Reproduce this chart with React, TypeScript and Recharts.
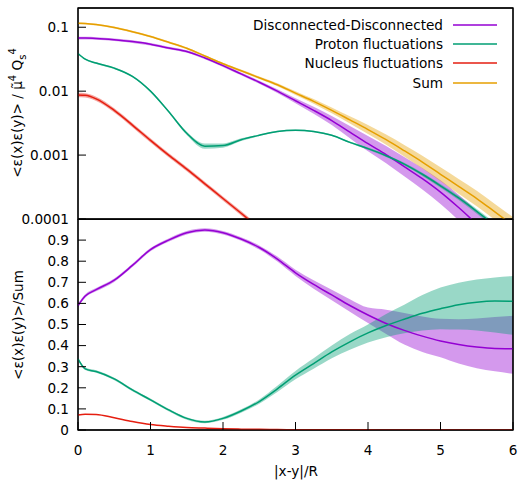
import React from 'react';
import { ComposedChart, Line, Area, XAxis, YAxis, ReferenceArea } from 'recharts';

// |x-y|/R sample points
const xs = [0, 0.1, 0.25, 0.5, 0.75, 1, 1.25, 1.5, 1.75, 2, 2.25, 2.5, 2.75, 3, 3.25, 3.5, 3.75, 4, 4.25, 4.5, 4.75, 5, 5.25, 5.5, 5.75, 6];

// top panel: <e(x)e(y)> / mu^4 Qs^4 (log scale), band = multiplicative spread
const ddVals = [0.0676, 0.0676, 0.0668, 0.0638, 0.0596, 0.0543, 0.0473, 0.0417, 0.0331, 0.0251, 0.0186, 0.0138, 0.01, 0.00708, 0.00501, 0.00347, 0.00229, 0.00151, 0.00102, 0.000661, 0.000427, 0.000263, 0.000151, 0.0000832, 0.0000447, 0.000024];
const ddErr = [1.047, 1.047, 1.047, 1.047, 1.047, 1.047, 1.047, 1.047, 1.047, 1.047, 1.05, 1.059, 1.072, 1.096, 1.135, 1.175, 1.245, 1.318, 1.365, 1.413, 1.469, 1.531, 1.585, 1.622, 1.679, 1.738];
const protonVals = [0.0389, 0.0316, 0.0275, 0.0229, 0.017, 0.01, 0.00479, 0.00219, 0.00138, 0.00141, 0.00174, 0.00204, 0.00234, 0.00245, 0.00234, 0.00204, 0.00158, 0.00126, 0.000977, 0.000724, 0.000501, 0.000331, 0.000214, 0.000132, 0.0000794, 0.0000468];
const protonErr = [1.03, 1.03, 1.03, 1.03, 1.03, 1.03, 1.03, 1.06, 1.1, 1.08, 1.05, 1.03, 1.03, 1.03, 1.03, 1.03, 1.03, 1.04, 1.045, 1.05, 1.06, 1.07, 1.08, 1.09, 1.095, 1.1];
const nucleusVals = [0.00871, 0.00861, 0.00759, 0.00501, 0.00295, 0.0017, 0.001, 0.000603, 0.000355, 0.000209, 0.000123, 0.0000724, 0.0000427, 0.0000251, null, null, null, null, null, null, null, null, null, null, null, null];
const nucleusErr = [1.08, 1.08, 1.08, 1.08, 1.08, 1.08, 1.08, 1.08, 1.08, 1.08, 1.08, 1.08, 1.08, 1.08, 1.08, 1.08, 1.08, 1.08, 1.08, 1.08, 1.08, 1.08, 1.08, 1.08, 1.08, 1.08];
const sumVals = [0.115, 0.114, 0.11, 0.0989, 0.0851, 0.0716, 0.0582, 0.0468, 0.0355, 0.0269, 0.0209, 0.0162, 0.0126, 0.00933, 0.00692, 0.00501, 0.00355, 0.00251, 0.00174, 0.00117, 0.000776, 0.000501, 0.000324, 0.000209, 0.000129, 0.0000794];
const sumErr = [1.035, 1.035, 1.035, 1.035, 1.035, 1.035, 1.035, 1.035, 1.035, 1.035, 1.042, 1.047, 1.059, 1.072, 1.089, 1.109, 1.14, 1.175, 1.202, 1.23, 1.259, 1.288, 1.303, 1.318, 1.334, 1.349];

// bottom panel: ratio to Sum
const ratioDD = [0.59, 0.635, 0.665, 0.71, 0.78, 0.855, 0.9, 0.935, 0.948, 0.935, 0.905, 0.865, 0.81, 0.745, 0.69, 0.64, 0.59, 0.545, 0.505, 0.472, 0.445, 0.422, 0.405, 0.393, 0.386, 0.385];
const ratioDDLo = [0.582, 0.627, 0.657, 0.702, 0.772, 0.847, 0.892, 0.927, 0.94, 0.927, 0.897, 0.855, 0.798, 0.73, 0.67, 0.615, 0.56, 0.507, 0.455, 0.405, 0.37, 0.345, 0.315, 0.293, 0.278, 0.266];
const ratioDDHi = [0.598, 0.643, 0.673, 0.718, 0.788, 0.863, 0.908, 0.943, 0.956, 0.943, 0.913, 0.875, 0.822, 0.76, 0.71, 0.665, 0.62, 0.58, 0.57, 0.555, 0.538, 0.527, 0.525, 0.528, 0.535, 0.542];
const ratioProton = [0.337, 0.29, 0.277, 0.242, 0.19, 0.143, 0.095, 0.055, 0.038, 0.055, 0.09, 0.135, 0.195, 0.26, 0.315, 0.37, 0.418, 0.46, 0.495, 0.525, 0.553, 0.575, 0.594, 0.606, 0.611, 0.61];
const ratioProtonLo = [0.331, 0.284, 0.271, 0.236, 0.184, 0.137, 0.089, 0.049, 0.032, 0.048, 0.082, 0.125, 0.18, 0.24, 0.29, 0.34, 0.38, 0.415, 0.44, 0.459, 0.472, 0.478, 0.476, 0.472, 0.462, 0.451];
const ratioProtonHi = [0.343, 0.296, 0.283, 0.248, 0.196, 0.149, 0.101, 0.061, 0.044, 0.062, 0.098, 0.145, 0.21, 0.28, 0.34, 0.4, 0.455, 0.5, 0.55, 0.594, 0.64, 0.675, 0.698, 0.713, 0.723, 0.73];
const ratioNucleus = [0.071, 0.075, 0.074, 0.058, 0.04, 0.026, 0.018, 0.012, 0.009, 0.006, 0.004, 0.003, 0.002, 0.0015, 0.001, 0.001, 0.0008, 0.0006, 0.0005, 0.0004, 0.0003, 0.0002, 0.0002, 0.0001, 0.0001, 0.0001];

const xTicks = [0, 1, 2, 3, 4, 5, 6];
const logMajor = [0.0001, 0.001, 0.01, 0.1];
const logMinor = [0.0002, 0.0003, 0.0004, 0.0005, 0.0006, 0.0007, 0.0008, 0.0009, 0.002, 0.003, 0.004, 0.005, 0.006, 0.007, 0.008, 0.009, 0.02, 0.03, 0.04, 0.05, 0.06, 0.07, 0.08, 0.09];
const ratioTicks = [0, 0.1, 0.2, 0.3, 0.4, 0.5, 0.6, 0.7, 0.8, 0.9];

const legendItems = [
  { name: 'Disconnected-Disconnected', color: '#9400d3' },
  { name: 'Proton fluctuations', color: '#009e73' },
  { name: 'Nucleus fluctuations', color: '#e51e10' },
  { name: 'Sum', color: '#e69f00' },
];

const FONT = 'DejaVu Sans';
const FS = 13.6;
const C_DD = '#9400d3';
const C_P = '#009e73';
const C_N = '#e51e10';
const C_S = '#e69f00';

const topData = xs.map((x, i) => ({
  x,
  dd: ddVals[i],
  ddBand: [ddVals[i] / ddErr[i], ddVals[i] * ddErr[i]],
  proton: protonVals[i],
  protonBand: [protonVals[i] / protonErr[i], protonVals[i] * protonErr[i]],
  nucleus: nucleusVals[i],
  nucleusBand: nucleusVals[i] == null ? null : [nucleusVals[i]! / nucleusErr[i], nucleusVals[i]! * nucleusErr[i]],
  sum: sumVals[i],
  sumBand: [sumVals[i] / sumErr[i], sumVals[i] * sumErr[i]],
}));

const bottomData = xs.map((x, i) => ({
  x,
  dd: ratioDD[i],
  ddBand: [ratioDDLo[i], ratioDDHi[i]],
  proton: ratioProton[i],
  protonBand: [ratioProtonLo[i], ratioProtonHi[i]],
  nucleus: ratioNucleus[i],
}));

const tickStyle = { fill: '#000', fontSize: FS, fontFamily: FONT };

export default function App() {
  const band = (key: string, color: string) => (
    <Area
      key={key}
      xAxisId="b"
      yAxisId="l"
      dataKey={key}
      type="monotone"
      stroke="none"
      fill={color}
      fillOpacity={0.4}
      isAnimationActive={false}
      legendType="none"
      activeDot={false}
      dot={false}
    />
  );
  const line = (key: string, color: string) => (
    <Line
      key={key}
      xAxisId="b"
      yAxisId="l"
      dataKey={key}
      type="monotone"
      stroke={color}
      strokeWidth={1.5}
      dot={false}
      activeDot={false}
      isAnimationActive={false}
    />
  );

  return (
    <div style={{ position: 'absolute', left: 0, top: 0, width: 518, height: 487, fontFamily: FONT }}>
      <div style={{ position: 'absolute', left: 0, top: 0, width: 518, height: 230 }}>
        <ComposedChart width={518} height={230} data={topData} margin={{ top: 8, right: 5, bottom: 10, left: 0 }}>
          <XAxis xAxisId="b" dataKey="x" type="number" domain={[0, 6]} ticks={xTicks} height={1} tick={false} tickSize={-8} stroke="#000" />
          <XAxis xAxisId="t" orientation="top" mirror dataKey="x" type="number" domain={[0, 6]} ticks={xTicks} height={1} tick={false} tickSize={8} stroke="#000" />
          <YAxis yAxisId="l" type="number" scale="log" domain={[0.0001, 0.2]} allowDataOverflow ticks={logMajor} tickFormatter={(v: number) => String(v)} width={78} tickSize={-8} tickMargin={17} tick={tickStyle} stroke="#000"
            label={{ content: () => (
              <text transform="translate(22,113) rotate(-90)" textAnchor="middle" fontSize={FS} fontFamily={FONT} fill="#000">
                {'<ε(x)ε(y)> / μ̃'}<tspan fontSize={10} dy={-6}>4</tspan><tspan dy={6}> Q</tspan><tspan fontSize={10} dy={4}>s</tspan><tspan fontSize={10} dy={-10}>4</tspan>
              </text>
            ) }}
          />
          <YAxis yAxisId="lm" mirror type="number" scale="log" domain={[0.0001, 0.2]} allowDataOverflow ticks={logMinor} width={1} tick={false} tickSize={4} axisLine={false} stroke="#000" />
          <YAxis yAxisId="r" orientation="right" mirror type="number" scale="log" domain={[0.0001, 0.2]} allowDataOverflow ticks={logMajor} width={1} tick={false} tickSize={8} stroke="#000" />
          <YAxis yAxisId="rm" orientation="right" mirror type="number" scale="log" domain={[0.0001, 0.2]} allowDataOverflow ticks={logMinor} width={1} tick={false} tickSize={4} axisLine={false} stroke="#000" />
          {band('ddBand', C_DD)}
          {band('protonBand', C_P)}
          {band('nucleusBand', C_N)}
          {band('sumBand', C_S)}
          {line('dd', C_DD)}
          {line('proton', C_P)}
          {line('nucleus', C_N)}
          {line('sum', C_S)}
          <ReferenceArea xAxisId="b" yAxisId="l" x1={0} x2={6} y1={0.0001} y2={0.2} fill="none" fillOpacity={0} stroke="#000" strokeWidth={1.3} ifOverflow="visible" />
        </ComposedChart>
      </div>

      <div style={{ position: 'absolute', left: 0, top: 219, width: 518, height: 268 }}>
        <ComposedChart width={518} height={268} data={bottomData} margin={{ top: 0, right: 5, bottom: 7, left: 0 }}>
          <XAxis xAxisId="b" dataKey="x" type="number" domain={[0, 6]} ticks={xTicks} height={50} tickSize={-8} tickMargin={23} tick={tickStyle} stroke="#000"
            label={{ content: () => (
              <text x={296} y={257} textAnchor="middle" fontSize={FS} fontFamily={FONT} fill="#000">|x-y|/R</text>
            ) }}
          />
          <XAxis xAxisId="t" orientation="top" mirror dataKey="x" type="number" domain={[0, 6]} ticks={xTicks} height={1} tick={false} tickSize={8} stroke="#000" />
          <YAxis yAxisId="l" type="number" domain={[0, 1]} allowDataOverflow ticks={ratioTicks} tickFormatter={(v: number) => String(v)} width={78} tickSize={-8} tickMargin={17} tick={tickStyle} stroke="#000"
            label={{ content: () => (
              <text transform="translate(23,106) rotate(-90)" textAnchor="middle" fontSize={FS} fontFamily={FONT} fill="#000">{'<ε(x)ε(y)>/Sum'}</text>
            ) }}
          />
          <YAxis yAxisId="r" orientation="right" mirror type="number" domain={[0, 1]} allowDataOverflow ticks={ratioTicks} width={1} tick={false} tickSize={8} stroke="#000" />
          {band('ddBand', C_DD)}
          {band('protonBand', C_P)}
          {line('dd', C_DD)}
          {line('proton', C_P)}
          {line('nucleus', C_N)}
          <ReferenceArea xAxisId="b" yAxisId="l" x1={0} x2={6} y1={0} y2={1} fill="none" fillOpacity={0} stroke="#000" strokeWidth={1.3} ifOverflow="visible" />
        </ComposedChart>
      </div>

      <div style={{ position: 'absolute', right: 21, top: 15, fontSize: FS, color: '#000' }}>
        {legendItems.map((it) => (
          <div key={it.name} style={{ display: 'flex', justifyContent: 'flex-end', alignItems: 'center', height: 19.3 }}>
            <span style={{ whiteSpace: 'nowrap' }}>{it.name}</span>
            <svg width={54} height={4} style={{ display: 'block' }}>
              <line x1={10} x2={54} y1={2} y2={2} stroke={it.color} strokeWidth={1.5} />
            </svg>
          </div>
        ))}
      </div>
    </div>
  );
}
